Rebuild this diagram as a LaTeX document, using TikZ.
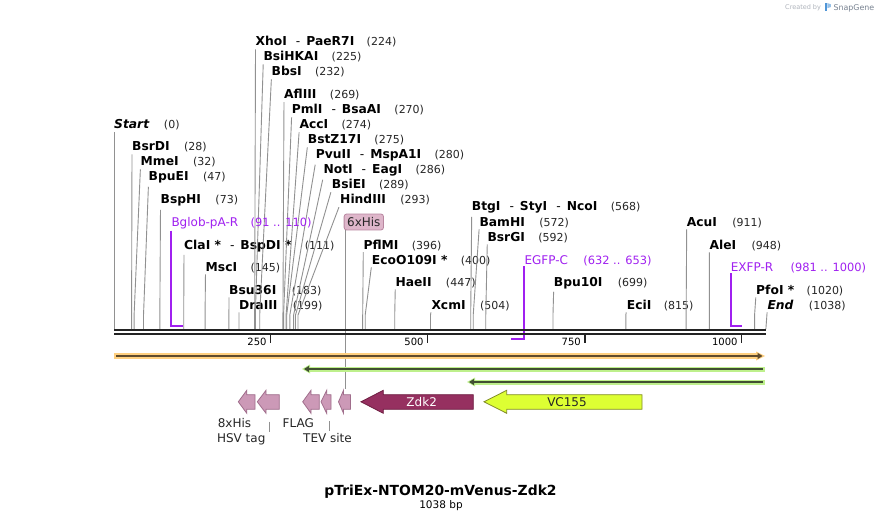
\documentclass[tikz,border=0pt]{standalone}
\usepackage{fontspec}
\setmainfont{DejaVu Sans}
\usepackage{tikz}
\usepackage{xcolor}
\usetikzlibrary{positioning,arrows.meta}
\definecolor{primercol}{RGB}{160,32,240}
\definecolor{leadcol}{RGB}{145,145,145}
\definecolor{bbcol}{RGB}{35,35,35}
\definecolor{tagfill}{RGB}{204,153,183}
\definecolor{tagdraw}{RGB}{160,110,140}
\definecolor{zdkfill}{RGB}{150,48,96}
\definecolor{zdkdraw}{RGB}{110,30,65}
\definecolor{vcfill}{RGB}{221,255,51}
\definecolor{vcdraw}{RGB}{130,140,40}
\definecolor{orlight}{RGB}{255,208,128}
\definecolor{ordark}{RGB}{95,75,45}
\definecolor{grlight}{RGB}{190,240,140}
\definecolor{grdark}{RGB}{65,80,50}
\definecolor{hisfill}{RGB}{222,182,202}
\definecolor{hisdraw}{RGB}{185,135,160}
\definecolor{credit}{RGB}{175,180,188}
\definecolor{creditdark}{RGB}{120,130,145}
\definecolor{logoblue}{RGB}{80,150,215}
\newcommand{\bpx}[1]{114+0.628*#1}
\newcommand{\dsh}{\hspace{9pt}{\mdseries -}\hspace{6pt}}
\newcommand{\featarrow}[4]{\draw[#1] (#2,401.8) -- (#3,390.3) -- (#3,394.7) -- (#4,394.7) -- (#4,409.3) -- (#3,409.3) -- (#3,413.3) -- cycle;}
\tikzstyle{enz} = [anchor=base west, inner sep=0pt, font=\fontsize{12.3}{14}\selectfont\bfseries]
\tikzstyle{site} = [anchor=base west, inner sep=0pt, font=\fontsize{11}{13}\selectfont, text=black!85]
\tikzstyle{primer} = [anchor=base west, inner sep=0pt, font=\fontsize{12}{14}\selectfont, text=primercol]
\tikzstyle{primersite} = [primer, font=\fontsize{11.4}{13}\selectfont]
\tikzstyle{leader} = [draw=leadcol, line width=0.9pt, shorten <=3pt]
\tikzstyle{bracket} = [draw=primercol, line width=1.8pt, shorten <=2pt]
\tikzstyle{featlab} = [anchor=base, inner sep=0pt, font=\fontsize{12}{14}\selectfont, text=black!85]
\tikzstyle{tag} = [fill=tagfill, draw=tagdraw, line width=0.8pt]
\tikzstyle{ticklab} = [anchor=base east, inner sep=0pt, font=\fontsize{10}{12}\selectfont]

\begin{document}
\begin{tikzpicture}[x=1pt,y=-1pt]
  \fill[white] (0,0) rectangle (882,521);
  \useasboundingbox (0,0) rectangle (882,521);
  % cut sites on the backbone
  \foreach \b in {0,28,32,47,73,111,145,183,199,224,225,232,269,270,274,275,280,286,289,293,396,400,447,504,568,572,592,699,815,911,948,1020,1038}
    \coordinate (c\b) at (\bpx{\b},329);
  \coordinate (bend) at (0,315);

  % enzymes, left part
  \node[enz] (st) at (114,129) {\textit{Start}};
  \node[site, base right=14pt of st] (stn) {(0)};
  \node[enz] (bsrd) at (132,151) {BsrDI};
  \node[site, base right=14pt of bsrd] (bsrdn) {(28)};
  \node[enz] (mme) at (140.5,166) {MmeI};
  \node[site, base right=14pt of mme] (mmen) {(32)};
  \node[enz] (bpue) at (148.5,181) {BpuEI};
  \node[site, base right=14pt of bpue] (bpuen) {(47)};
  \node[enz] (bsph) at (160.5,204) {BspHI};
  \node[site, base right=14pt of bsph] (bsphn) {(73)};
  \node[enz] (cla) at (184,249) {ClaI *\dsh BspDI *};
  \node[site, base right=13pt of cla] (clan) {(111)};
  \node[enz] (msc) at (205.5,271) {MscI};
  \node[site, base right=13pt of msc] (mscn) {(145)};
  \node[enz] (bsu) at (229,294) {Bsu36I};
  \node[site, base right=15pt of bsu] (bsun) {(183)};
  \node[enz] (dra) at (239,309) {DraIII};
  \node[site, base right=15pt of dra] (dran) {(199)};

  % enzymes, the crowded group
  \node[enz] (xho) at (255.5,46) {XhoI\dsh PaeR7I};
  \node[site, base right=12pt of xho] (xhon) {(224)};
  \node[enz] (bsihk) at (263.3,61) {BsiHKAI};
  \node[site, base right=13pt of bsihk] (bsihkn) {(225)};
  \node[enz] (bbs) at (271.5,76) {BbsI};
  \node[site, base right=13pt of bbs] (bbsn) {(232)};
  \node[enz] (afl) at (284,99) {AflIII};
  \node[site, base right=13pt of afl] (afln) {(269)};
  \node[enz] (pml) at (291.7,114) {PmlI\dsh BsaAI};
  \node[site, base right=13pt of pml] (pmln) {(270)};
  \node[enz] (acc) at (299.3,129) {AccI};
  \node[site, base right=13pt of acc] (accn) {(274)};
  \node[enz] (bstz) at (307.7,144) {BstZ17I};
  \node[site, base right=13pt of bstz] (bstzn) {(275)};
  \node[enz] (pvu) at (315.7,159) {PvuII\dsh MspA1I};
  \node[site, base right=13pt of pvu] (pvun) {(280)};
  \node[enz] (notx) at (323.3,174) {NotI\dsh EagI};
  \node[site, base right=13pt of notx] (notxn) {(286)};
  \node[enz] (bsie) at (331.7,189) {BsiEI};
  \node[site, base right=13pt of bsie] (bsien) {(289)};
  \node[enz] (hind) at (340,204) {HindIII};
  \node[site, base right=14pt of hind] (hindn) {(293)};

  % enzymes, right part
  \node[enz] (pflm) at (363.3,249) {PflMI};
  \node[site, base right=13pt of pflm] (pflmn) {(396)};
  \node[enz] (eco) at (371.7,264) {EcoO109I *};
  \node[site, base right=13pt of eco] (econ) {(400)};
  \node[enz] (hae) at (395.3,286) {HaeII};
  \node[site, base right=14pt of hae] (haen) {(447)};
  \node[enz] (xcm) at (431.3,309) {XcmI};
  \node[site, base right=14pt of xcm] (xcmn) {(504)};
  \node[enz] (btg) at (471.7,211) {BtgI\dsh StyI\dsh NcoI};
  \node[site, base right=13pt of btg] (btgn) {(568)};
  \node[enz] (bam) at (479.3,226) {BamHI};
  \node[site, base right=14pt of bam] (bamn) {(572)};
  \node[enz] (bsrg) at (487.3,241) {BsrGI};
  \node[site, base right=13pt of bsrg] (bsrgn) {(592)};
  \node[enz] (bpu) at (553.7,286) {Bpu10I};
  \node[site, base right=15pt of bpu] (bpun) {(699)};
  \node[enz] (eci) at (626.7,309) {EciI};
  \node[site, base right=12pt of eci] (ecin) {(815)};
  \node[enz] (acu) at (686.7,226) {AcuI};
  \node[site, base right=15pt of acu] (acun) {(911)};
  \node[enz] (ale) at (709.3,249) {AleI};
  \node[site, base right=15pt of ale] (alen) {(948)};
  \node[enz] (pfo) at (756,294) {PfoI *};
  \node[site, base right=12pt of pfo] (pfon) {(1020)};
  \node[enz] (en) at (767.3,309) {\textit{End}};
  \node[site, base right=15pt of en] (enn) {(1038)};

  % leaders
  \draw[leader] (st.south west) -- (c0);
  \draw[leader] (bsrd.south west) -- (c28 |- bend) -- (c28);
  \draw[leader] (mme.south west) -- (c32 |- bend) -- (c32);
  \draw[leader] (bpue.south west) -- (c47 |- bend) -- (c47);
  \draw[leader] (bsph.south west) -- (c73 |- bend) -- (c73);
  \draw[leader] (cla.south west) -- (c111 |- bend) -- (c111);
  \draw[leader] (msc.south west) -- (c145 |- bend) -- (c145);
  \draw[leader] (bsu.south west) -- (c183 |- bend) -- (c183);
  \draw[leader] (dra.south west) -- (c199 |- bend) -- (c199);
  \draw[leader] (xho.south west) -- (c224 |- bend) -- (c224);
  \draw[leader] (bsihk.south west) -- (c225 |- bend) -- (c225);
  \draw[leader] (bbs.south west) -- (c232 |- bend) -- (c232);
  \draw[leader] (afl.south west) -- (c269 |- bend) -- (c269);
  \draw[leader] (pml.south west) -- (c270 |- bend) -- (c270);
  \draw[leader] (acc.south west) -- (c274 |- bend) -- (c274);
  \draw[leader] (bstz.south west) -- (c275 |- bend) -- (c275);
  \draw[leader] (pvu.south west) -- (c280 |- bend) -- (c280);
  \draw[leader] (notx.south west) -- (c286 |- bend) -- (c286);
  \draw[leader] (bsie.south west) -- (c289 |- bend) -- (c289);
  \draw[leader] (hind.south west) -- (c293 |- bend) -- (c293);
  \draw[leader] (pflm.south west) -- (c396 |- bend) -- (c396);
  \draw[leader] (eco.south west) -- (c400 |- bend) -- (c400);
  \draw[leader] (hae.south west) -- (c447 |- bend) -- (c447);
  \draw[leader] (xcm.south west) -- (c504 |- bend) -- (c504);
  \draw[leader] (btg.south west) -- (c568 |- bend) -- (c568);
  \draw[leader] (bam.south west) -- (c572 |- bend) -- (c572);
  \draw[leader] (bsrg.south west) -- (c592 |- bend) -- (c592);
  \draw[leader] (bpu.south west) -- (c699 |- bend) -- (c699);
  \draw[leader] (eci.south west) -- (c815 |- bend) -- (c815);
  \draw[leader] (acu.south west) -- (c911 |- bend) -- (c911);
  \draw[leader] (ale.south west) -- (c948 |- bend) -- (c948);
  \draw[leader] (pfo.south west) -- (c1020 |- bend) -- (c1020);
  \draw[leader] (en.south west) -- (c1038);

  % primers
  \node[primer] (bglob) at (171.3,226) {Bglob-pA-R};
  \node[primersite, base right=12pt of bglob] (bglobn) {(91 .. 110)};
  \node[primer] (egfp) at (524.3,264) {EGFP-C};
  \node[primersite, base right=15pt of egfp] (egfpn) {(632 .. 653)};
  \node[primer] (exfp) at (730.7,271) {EXFP-R};
  \node[primersite, base right=17pt of exfp] (exfpn) {(981 .. 1000)};
  \coordinate (bglobA) at (171.3,325.7);
  \coordinate (bglobB) at (183.3,325.7);
  \coordinate (egfpA) at (524.3,339);
  \coordinate (egfpB) at (511,339);
  \coordinate (exfpA) at (730.7,326);
  \coordinate (exfpB) at (742,326);
  \draw[bracket] (bglob.south west) -- (bglobA) -- (bglobB);
  \draw[bracket] (egfp.south west) -- (egfpA) -- (egfpB);
  \draw[bracket] (exfp.south west) -- (exfpA) -- (exfpB);

  % 6xHis label
  \node[rounded corners=2.5pt, fill=hisfill, draw=hisdraw, line width=0.8pt, inner xsep=3pt, minimum height=14.5pt,
        font=\fontsize{12}{14}\selectfont, text=black!85] (his) at (363.8,222) {6xHis};
  \coordinate (histop) at (345.8,389);
  \draw[leader, shorten <=0pt] (his.south -| histop) -- (histop);

  % backbone and ticks
  \draw[bbcol, line width=2pt] (114,330.3) -- (766,330.3);
  \draw[bbcol, line width=2pt] (114,333.7) -- (766,333.7);
  \foreach \n/\x in {250/270.7,500/427.7,750/585,1000/741.7} {
    \draw[bbcol, line width=1.5pt] (\x,334.7) -- (\x,342.5);
    \node[ticklab] (tk\n) at (\x-4,345.7) {\n};
  }

  % orange and green bars
  \fill[orlight] (114,353) rectangle (759,359);
  \fill[orlight] (756,351.5) -- (765,356) -- (756,360.5) -- cycle;
  \draw[ordark, line width=2pt, -{Triangle[length=5pt,width=6pt]}] (116,356) -- (762.5,356);
  \fill[grlight] (308,366.5) rectangle (764.5,371.5);
  \fill[grlight] (310,364.5) -- (302,369) -- (310,373.5) -- cycle;
  \draw[grdark, line width=2pt, -{Triangle[length=5pt,width=6pt]}] (762.5,369) -- (304,369);
  \fill[grlight] (473,379.5) rectangle (765,384.5);
  \fill[grlight] (475,377.5) -- (467,382) -- (475,386.5) -- cycle;
  \draw[grdark, line width=2pt, -{Triangle[length=5pt,width=6pt]}] (763,382) -- (469,382);

  % features
  \featarrow{tag}{238.3}{246.8}{255}
  \featarrow{tag}{257.3}{266}{279.3}
  \featarrow{tag}{302.7}{311}{319.3}
  \featarrow{tag}{321}{326.7}{331}
  \featarrow{tag}{338.5}{343.5}{350.5}
  \featarrow{fill=zdkfill, draw=zdkdraw, line width=0.8pt}{361}{383.3}{473.3}
  \featarrow{fill=vcfill, draw=vcdraw, line width=0.8pt}{484}{506.7}{642}
  \node[font=\fontsize{12}{14}\selectfont, text=white] (zdk) at (421.7,401.8) {Zdk2};
  \node[font=\fontsize{12}{14}\selectfont, text=black!85] (vc) at (567,401.8) {VC155};

  \node[featlab] (l8his) at (234.5,427.3) {8xHis};
  \node[featlab] (lhsv) at (241.2,442.7) {HSV tag};
  \node[featlab] (lflag) at (298.3,427.3) {FLAG};
  \node[featlab] (ltev) at (327.5,442.7) {TEV site};
  \coordinate (hsvA) at (269.3,421.5);
  \coordinate (hsvB) at (269.3,431.7);
  \coordinate (tevA) at (329,421);
  \coordinate (tevB) at (329,430.7);
  \draw[leadcol, line width=0.8pt] (hsvA) -- (hsvB);
  \draw[leadcol, line width=0.8pt] (tevA) -- (tevB);

  % title
  \node[anchor=base, font=\fontsize{13.9}{16}\selectfont\bfseries] (title) at (440.5,495) {pTriEx-NTOM20-mVenus-Zdk2};
  \node[anchor=base, font=\fontsize{10.5}{12}\selectfont] (len) at (441,508) {1038 bp};

  % credit
  \node[anchor=base west, inner sep=0pt, font=\fontsize{6.5}{7}\selectfont, text=credit] (cby) at (785,9.5) {Created by};
  \fill[logoblue] (824.5,3) rectangle (827.3,11);
  \fill[logoblue!60] (827.3,3) -- (830.8,4.3) -- (830.8,7) -- (827.3,8.2) -- cycle;
  \node[anchor=base west, inner sep=0pt, font=\fontsize{7.9}{9}\selectfont, text=creditdark] (sg) at (833.3,10.5) {SnapGene};
\end{tikzpicture}
\end{document}
